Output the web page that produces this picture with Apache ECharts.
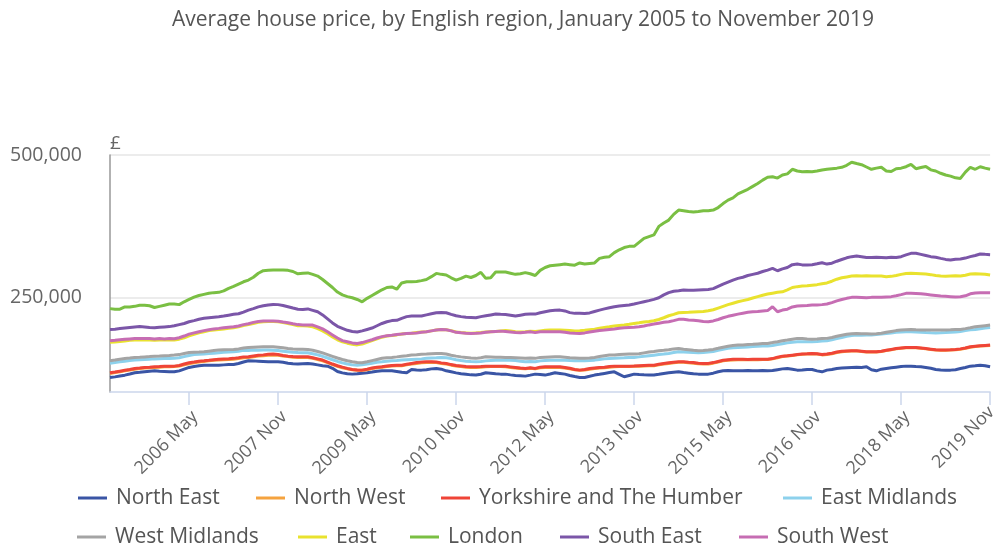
<!DOCTYPE html>
<html>
<head>
<meta charset="utf-8">
<title>Average house price, by English region</title>
<script src="https://cdn.jsdelivr.net/npm/echarts@6/dist/echarts.min.js"></script>
<style>
  html, body { margin: 0; padding: 0; background: #ffffff; }
  #chart { width: 1000px; height: 547px; }
</style>
</head>
<body>
<div id="chart"></div>
<script>
// Average house price (£), monthly, January 2005 to November 2019
const years = [2005, 2006, 2007, 2008, 2009, 2010, 2011, 2012, 2013, 2014, 2015, 2016, 2017, 2018, 2019];
const monthNames = ['Jan', 'Feb', 'Mar', 'Apr', 'May', 'Jun', 'Jul', 'Aug', 'Sep', 'Oct', 'Nov', 'Dec'];
const lastMonth = 'Nov';

const regionNames = ['North East', 'North West', 'Yorkshire and The Humber', 'East Midlands',
  'West Midlands', 'East', 'London', 'South East', 'South West'];

const northEast = [
  110500, 111500, 113000, 114500, 116500, 118600, 119500, 120500, 121500, 122100, 121500, 121000,
  120500, 120300, 122000, 125000, 128000, 129500, 131000, 132000, 132000, 132000, 132000, 132500,
  133000, 133300, 135000, 137500, 139700, 139500, 139000, 138500, 138000, 137900, 137900, 137000,
  135500, 134500, 133900, 134500, 135100, 134000, 132500, 131000, 130300, 126500, 121000, 118500,
  117000, 116300, 117000, 118000, 118600, 120000, 121500, 122100, 122100, 122100, 121000, 119500,
  118600, 124500, 123500, 123300, 124000, 125500, 126300, 125000, 122100, 120300, 118500, 117000,
  116000, 115000, 114600, 116000, 118600, 118000, 117000, 116300, 116300, 115000, 114000, 113500,
  112800, 114500, 116300, 115500, 114600, 116500, 118600, 117500, 116300, 114000, 112000, 110500,
  110500, 112500, 114600, 116000, 117500, 119000, 120300, 116000, 111700, 114000, 116300, 115500,
  115000, 114600, 114600, 116000, 117500, 118600, 119500, 120300, 119000, 118000, 117000, 116300,
  116300, 116300, 118000, 120500, 122100, 122500, 122100, 122000, 122100, 122500, 122100, 122100,
  122500, 122100, 122500, 124000, 125500, 126300, 125000, 123300, 123500, 124500, 124500, 122000,
  120300, 123300, 124500, 126300, 127000, 127500, 128000, 128500, 128000, 129100, 124000, 122100,
  125000, 126300, 127500, 128500, 129500, 130300, 130000, 129500, 129100, 128000, 126500, 124500,
  123500, 123300, 123300, 124000, 126000, 128000, 130300, 131000, 132000, 131000, 129100
];
const northWest = [
  117500, 119000, 120500, 122000, 123500, 125000, 126000, 127000, 127500, 128000, 128500, 129000,
  129000, 129500, 130500, 132500, 134500, 136000, 137500, 138500, 139500, 140500, 141000, 141500,
  142000, 142500, 143500, 145000, 145500, 146500, 148000, 148500, 149500, 150000, 149500, 148000,
  147000, 146000, 145500, 145500, 145500, 144000, 142000, 139500, 136500, 133000, 130000, 127500,
  125500, 124000, 123000, 123000, 124000, 126000, 127500, 128500, 129500, 130500, 131000, 131000,
  132500, 134000, 135000, 136000, 136500, 137000, 136500, 135000, 134000, 132000, 130500, 129500,
  128500, 128000, 128000, 128500, 129000, 129500, 129500, 129500, 129000, 128000, 127000, 126000,
  125500, 126500, 125500, 127500, 128000, 128000, 128000, 128000, 127000, 125500, 124000, 123000,
  123500, 125000, 126000, 127000, 127500, 128500, 129000, 129500, 129500, 129500, 130000, 130000,
  130500, 131000, 131000, 132500, 134000, 135000, 136000, 137000, 137000, 136000, 135500, 134500,
  134000, 134000, 135500, 137500, 139500, 140500, 141000, 141500, 141500, 141500, 141500, 141500,
  142000, 142000, 143000, 145000, 147000, 148000, 149000, 150000, 151000, 151500, 152000, 151500,
  150000, 150500, 152000, 154000, 155500, 156500, 157000, 157000, 156000, 155000, 155000, 155000,
  156000, 157500, 159000, 160500, 161500, 162500, 163000, 162500, 161500, 160500, 159500, 158500,
  158000, 158000, 158500, 159000, 160000, 161500, 163500, 164500, 165500, 166000, 166500
];
const yorkshire = [
  118600, 120000, 121500, 123000, 124500, 126300, 127000, 128000, 128500, 129100, 129500, 130000,
  130200, 130300, 131500, 134000, 136100, 137500, 139000, 139700, 140500, 141500, 142200, 142800,
  143300, 143900, 145000, 146500, 146600, 148000, 149300, 150000, 151000, 151400, 150500, 149000,
  147800, 147000, 146600, 146600, 146600, 145000, 143000, 141000, 137500, 134000, 131000, 128500,
  126300, 124500, 123500, 123300, 125000, 127000, 128500, 129100, 130500, 131500, 132000, 132000,
  133500, 135000, 136500, 137500, 137900, 138000, 137500, 136000, 135100, 133000, 131500, 130500,
  129500, 129100, 129100, 129500, 130000, 130300, 130300, 130300, 130000, 129000, 128000, 127000,
  126300, 127500, 126300, 128500, 129000, 129100, 129100, 129100, 128000, 126500, 124500, 123300,
  124500, 126000, 127000, 128000, 128500, 129500, 130300, 130300, 130300, 130300, 130500, 131000,
  131500, 132000, 132000, 133500, 135000, 136100, 137000, 137900, 138000, 137000, 136500, 135500,
  135000, 135100, 136500, 138500, 140500, 141500, 142200, 142200, 142200, 142000, 142200, 142200,
  142500, 142200, 143500, 146000, 147800, 148500, 149500, 150500, 151500, 152000, 152600, 152000,
  150500, 151400, 153000, 155000, 156500, 157000, 157200, 157200, 156500, 155500, 155400, 155400,
  156500, 158000, 159500, 161000, 162000, 163000, 163100, 163000, 162000, 161000, 160000, 159000,
  158400, 158400, 158800, 159500, 160500, 162000, 164200, 165000, 165800, 166500, 167100
];
const eastMidlands = [
  135100, 136500, 138000, 139000, 140000, 140900, 141500, 142000, 142500, 143000, 143300, 143500,
  143700, 143900, 145000, 147000, 149000, 150500, 151000, 151400, 152200, 153000, 153800, 154500,
  155000, 155400, 156500, 158000, 157500, 158500, 158200, 158400, 158400, 158200, 157500, 156500,
  155500, 154500, 154000, 153800, 153700, 152000, 150000, 147500, 144500, 141500, 138500, 136000,
  134000, 132500, 132000, 132500, 134000, 135500, 137000, 137900, 139000, 139700, 140300, 141000,
  141500, 142000, 142500, 143000, 143900, 144500, 145000, 145600, 145000, 143500, 141500, 140000,
  139000, 138300, 137900, 138500, 139500, 140000, 140500, 140800, 140800, 140500, 140000, 139000,
  137900, 138500, 137900, 139500, 140000, 140500, 140800, 140800, 140500, 140000, 139700, 139700,
  139700, 140000, 140800, 142000, 143000, 143500, 143900, 144500, 145000, 145600, 145600, 146500,
  147500, 148500, 149500, 150500, 151400, 152500, 154000, 155400, 155000, 154500, 154000, 153700,
  154000, 155000, 156000, 158000, 160000, 161500, 162500, 163100, 163500, 164000, 164500, 165000,
  165400, 165400, 166500, 168000, 169500, 171000, 172200, 173000, 173000, 172800, 173000, 173500,
  174300, 174700, 176500, 178500, 180500, 182500, 184000, 184600, 184500, 184600, 185000, 185500,
  186500, 187500, 188500, 189500, 190000, 190400, 190400, 190000, 189500, 189000, 188700, 188500,
  188700, 189000, 189500, 190000, 191000, 192500, 194000, 194600, 195800, 197000, 198100
];
const westMidlands = [
  139700, 141000, 142500, 143500, 144500, 145600, 146000, 146500, 147000, 147800, 148000, 148500,
  149000, 149600, 150500, 152500, 154300, 154800, 155000, 155400, 156500, 157500, 158400, 158800,
  159200, 159600, 160500, 162000, 163000, 163500, 164000, 164200, 164300, 164200, 163500, 162500,
  161300, 160500, 160000, 159800, 159600, 158000, 156000, 153500, 150500, 147500, 144500, 142000,
  139700, 138000, 136500, 136100, 138000, 140000, 142000, 144000, 144900, 145600, 146500, 147500,
  148500, 149600, 150200, 151000, 151400, 152000, 152300, 152600, 151500, 149500, 147800, 146500,
  145500, 144500, 143900, 145000, 146600, 146500, 146000, 145800, 145600, 145500, 145000, 144500,
  143900, 144500, 143900, 145600, 146000, 146300, 146600, 146600, 146000, 145000, 144500, 143900,
  143900, 144500, 145500, 147000, 148500, 149600, 150000, 150500, 151000, 151400, 151400, 152000,
  153500, 155000, 156000, 157200, 158000, 159000, 160500, 161300, 160000, 159000, 158000, 157200,
  157500, 158500, 159600, 161500, 163500, 165000, 166500, 167100, 167500, 168000, 168500, 169200,
  169800, 170100, 171500, 173000, 174700, 176000, 177500, 178900, 178500, 177800, 177400, 177800,
  178500, 178900, 180500, 182500, 184500, 186000, 187000, 187600, 187200, 186800, 186400, 187000,
  188000, 189500, 191000, 192500, 193500, 194200, 194600, 194000, 193600, 193400, 193400, 193500,
  193400, 193600, 193800, 194400, 194600, 196000, 197500, 199200, 200200, 201200, 202200
];
const east = [
  172000, 172500, 173500, 174500, 175500, 176000, 176500, 176000, 176000, 175500, 176000, 176000,
  176500, 176000, 177500, 180000, 183500, 186000, 188500, 190500, 192500, 193500, 194500, 195500,
  196500, 197500, 199000, 201500, 203000, 205000, 207000, 208000, 208500, 208500, 208000, 206500,
  205000, 203000, 201000, 201000, 200500, 199000, 196000, 192000, 187000, 181500, 176500, 173000,
  170500, 168500, 167500, 169000, 172000, 175000, 178000, 181000, 183000, 184000, 185000, 186500,
  187500, 188000, 189000, 190000, 190500, 192000, 193500, 194500, 194000, 192500, 190000, 189000,
  188500, 188000, 188500, 189000, 190000, 190500, 191000, 192000, 192500, 192000, 190500, 190000,
  190500, 191500, 191000, 192000, 193000, 193500, 193500, 193400, 193000, 192500, 192000, 192300,
  193000, 194000, 195000, 196500, 198000, 199200, 200500, 201500, 202200, 203500, 205000, 206200,
  207500, 208500, 209700, 212000, 215000, 218500, 221000, 223700, 224400, 224500, 225000, 225500,
  226000, 227200, 229000, 232000, 235000, 238000, 240500, 243000, 245000, 247000, 249500, 252000,
  254500, 256500, 258000, 259500, 260500, 264000, 268000, 269500, 270500, 271000, 272000, 273000,
  274500, 276000, 279000, 282500, 285000, 286500, 288000, 288500, 288000, 288500, 288000, 288000,
  288000, 287000, 287500, 289000, 291000, 292500, 293000, 292500, 292000, 291500, 290500, 289000,
  288000, 287500, 288000, 288500, 288000, 289500, 291500, 292000, 291500, 291000, 289800
];
const london = [
  231000, 230000, 230000, 234000, 234000, 235000, 237000, 237000, 236000, 233000, 235000, 237000,
  239000, 239000, 238000, 243000, 247000, 251000, 254000, 256000, 258000, 259000, 259500, 262000,
  266500, 270000, 274000, 278000, 281000, 286000, 293000, 297500, 298000, 298500, 298500, 298500,
  298000, 296000, 292000, 293000, 293500, 291000, 288000, 282000, 275000, 268000, 260000, 255000,
  252000, 250000, 247000, 243000, 249000, 254000, 259000, 264000, 268000, 269000, 265000, 276000,
  278000, 278000, 278500, 280000, 282000, 287000, 292700, 291000, 289800, 285000, 281000, 284000,
  288000, 285500, 289000, 294500, 284000, 285000, 295000, 295000, 295000, 293000, 291000, 292000,
  294000, 292000, 289000, 298000, 303000, 306000, 307000, 308000, 309000, 308000, 307000, 311000,
  309000, 310000, 311000, 319000, 321000, 322000, 329000, 334000, 338000, 340000, 340000, 347000,
  354000, 357000, 360000, 375000, 381000, 386000, 396000, 403600, 402500, 401000, 400000, 401000,
  402400, 402500, 403600, 408000, 415000, 421000, 425000, 432000, 436000, 440000, 445000, 450000,
  456000, 461000, 462000, 459600, 465000, 467000, 475000, 472000, 470800, 471000, 470800, 472000,
  473700, 475000, 476000, 477000, 478500, 482000, 487200, 485000, 483000, 479000, 475000, 477000,
  478500, 472000, 471000, 476000, 477000, 479500, 483700, 476000, 478000, 480000, 474000, 472000,
  468000, 465000, 463000, 460000, 459000, 470000, 478500, 475000, 479500, 477000, 475000
];
const southEast = [
  194600, 195000, 196000, 197000, 198000, 199000, 199500, 199000, 198000, 197500, 198500, 199000,
  199500, 201000, 203000, 205000, 208000, 210000, 212500, 214000, 215000, 216000, 216700, 218000,
  219500, 221000, 222000, 225000, 228400, 231000, 234000, 236000, 237500, 238400, 238000, 236500,
  234300, 232000, 230000, 229500, 230500, 228000, 225500, 220000, 213000, 206000, 200000, 196400,
  193000, 191000, 190000, 192000, 194500, 197000, 201000, 205000, 208000, 210000, 210500, 214000,
  217000, 218000, 218000, 218000, 220000, 222000, 223700, 224000, 223700, 221000, 218500, 217000,
  216000, 215500, 215000, 217000, 218500, 220000, 221400, 221000, 220800, 219500, 218000, 219500,
  221000, 221500, 221400, 223700, 225500, 227200, 228000, 228400, 227000, 224000, 222700, 223000,
  222500, 223500, 226000, 228400, 230500, 232500, 234300, 235500, 236500, 237500, 239000, 241000,
  243000, 245000, 247200, 250000, 255000, 259000, 261500, 262300, 263500, 263000, 263000, 263500,
  264000, 264500, 266000, 270000, 274000, 277500, 281000, 284000, 286000, 289000, 291000, 293000,
  296000, 298500, 301500, 297300, 300500, 303000, 308000, 309000, 307600, 307600, 308000, 309500,
  311400, 309000, 310500, 314000, 317000, 320000, 322000, 323000, 322000, 320700, 320700, 321000,
  320700, 320000, 321000, 320700, 322000, 325000, 327800, 327800, 326000, 324000, 322000, 321000,
  319000, 317200, 316000, 317500, 317900, 319500, 322000, 324000, 326600, 326000, 325500
];
const southWest = [
  174700, 175500, 176500, 177500, 178000, 178500, 178900, 178500, 178500, 178000, 178500, 178000,
  178500, 178100, 180000, 183000, 186400, 188500, 190500, 192500, 194000, 195500, 196400, 197500,
  198500, 199200, 200500, 203000, 204500, 206900, 208500, 209200, 209500, 209500, 209000, 207500,
  206200, 204500, 203000, 202200, 202500, 202200, 199000, 195500, 190500, 185000, 179500, 175000,
  173000, 171000, 170100, 171500, 174000, 176500, 179500, 182000, 183500, 184500, 185800, 186500,
  187500, 188000, 188500, 189500, 190400, 192000, 193500, 194600, 194000, 192000, 189500, 188700,
  188000, 187600, 188000, 188500, 189500, 190400, 191000, 191600, 191000, 190000, 189000, 188700,
  189500, 190400, 189000, 190500, 190500, 190400, 190400, 190400, 189500, 188500, 188000, 187600,
  188500, 190000, 191500, 192500, 193500, 194600, 195500, 196500, 197500, 198000, 198500, 199200,
  200500, 202500, 203900, 205500, 207000, 208000, 210000, 212200, 212200, 211000, 210500, 209700,
  208500, 208000, 209500, 212000, 215000, 217500, 219500, 221400, 223000, 224500, 225500, 226000,
  227000, 227500, 234300, 225500, 228500, 230000, 234000, 235500, 236000, 236500, 237200, 237500,
  238000, 239000, 241500, 244500, 247000, 249000, 250700, 251000, 250500, 250000, 250700, 251000,
  251000, 251500, 252000, 253500, 255500, 257700, 258000, 257500, 257000, 256000, 255000, 254000,
  253000, 252500, 252000, 251500, 251800, 253500, 257000, 258500, 258800, 259000, 258800
];

const regionColors = ['#3a55a5', '#f5a33f', '#ef4437', '#8dd1ec', '#a4a4a4', '#e9e22e', '#7abf43', '#7b56a8', '#c66db3'];
const yTickValues = [250000, 500000];

// Month labels "YYYY Mon", ending at the last published month
const months = [];
years.forEach(function (y) {
  monthNames.forEach(function (m) {
    months.push(y + ' ' + m);
  });
});
months.length = months.indexOf(years[years.length - 1] + ' ' + lastMonth) + 1;

// Axis labels every 18 months, anchored on the final month
const labelStep = 18;
const lastIndex = months.length - 1;
function showTick(index) {
  return (lastIndex - index) % labelStep === 0;
}

const seriesData = [northEast, northWest, yorkshire, eastMidlands, westMidlands, east, london, southEast, southWest];

const chart = echarts.init(document.getElementById('chart'), null, { renderer: 'canvas' });
const fontFamily = '"Open Sans", "Noto Sans", sans-serif';
const axisLabelFont = { fontFamily: fontFamily, fontSize: 18, color: '#666666' };

// Legend entries laid out in two rows, one legend box per entry
const legendSlots = [
  [78, 485], [256, 485], [441, 485], [783, 485],
  [77, 524], [298, 524], [410, 524], [560, 524], [739, 524]
];
const legends = regionNames.map(function (name, i) {
  return {
    orient: 'horizontal',
    left: legendSlots[i][0],
    top: legendSlots[i][1],
    padding: 0,
    icon: 'rect',
    itemWidth: 29,
    itemHeight: 3,
    data: [name],
    textStyle: { fontFamily: fontFamily, fontSize: 21, color: '#555555', lineHeight: 26, padding: [0, 0, 0, 4] }
  };
});

chart.setOption({
  animation: false,
  color: regionColors,
  title: {
    text: 'Average house price, by English region, January 2005 to November 2019',
    left: 167,
    top: 5,
    textStyle: { fontFamily: fontFamily, fontSize: 21, fontWeight: 'normal', color: '#555555' }
  },
  legend: legends,
  grid: { left: 110, right: 6, top: 155, bottom: 155, containLabel: false },
  xAxis: {
    type: 'category',
    data: months,
    boundaryGap: false,
    axisLine: { lineStyle: { color: '#ccd6eb', width: 1.5 } },
    axisTick: { interval: showTick, length: 13, lineStyle: { color: '#ccd6eb', width: 1.5 } },
    axisLabel: {
      interval: showTick,
      rotate: 45,
      margin: 16,
      fontFamily: fontFamily,
      fontSize: 18,
      color: '#666666',
      // the final label is kept tight to the plot edge so it stays inside the canvas
      formatter: function (value, index) {
        return (index === lastIndex ? '{last|' : '{mid|') + value + '}';
      },
      rich: {
        mid: Object.assign({ padding: [17, 0, 0, 0] }, axisLabelFont),
        last: Object.assign({ padding: [4, 0, 0, 0] }, axisLabelFont)
      }
    },
    splitLine: { show: false }
  },
  yAxis: {
    type: 'value',
    min: 85000,
    max: 500000,
    name: '£',
    nameLocation: 'end',
    nameGap: 2,
    nameTextStyle: { fontFamily: fontFamily, fontSize: 19, color: '#666666', align: 'left' },
    axisLine: { show: true, lineStyle: { color: '#999999', width: 1.5 } },
    axisTick: { show: false, customValues: yTickValues },
    axisLabel: {
      customValues: yTickValues,
      margin: 28,
      fontFamily: fontFamily,
      fontSize: 19.5,
      color: '#666666',
      formatter: function (v) { return v.toLocaleString('en-GB'); }
    },
    splitLine: { show: true, lineStyle: { color: '#e6e6e6', width: 1.5 } }
  },
  series: regionNames.map(function (name, i) {
    return {
      name: name,
      type: 'line',
      data: seriesData[i],
      symbol: 'none',
      lineStyle: { width: 3 },
      emphasis: { disabled: true }
    };
  })
});
</script>
</body>
</html>
